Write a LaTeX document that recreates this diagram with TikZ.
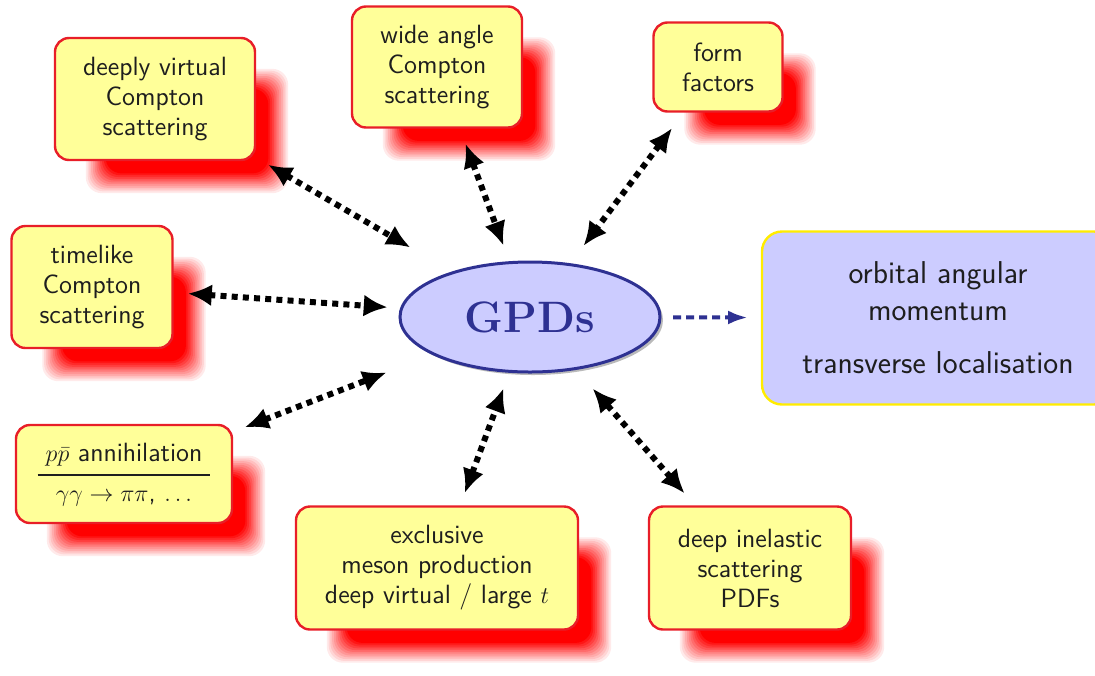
\documentclass[tikz,border=0pt]{standalone}
\usetikzlibrary{arrows.meta,shapes.geometric,backgrounds,shadows}
\definecolor{boxfill}{RGB}{255,255,153}
\definecolor{boxdraw}{RGB}{232,30,40}
\definecolor{gpdblue}{RGB}{46,49,146}
\definecolor{lav}{RGB}{204,204,255}
\definecolor{yel}{RGB}{255,236,0}
\definecolor{txt}{RGB}{30,30,30}
\tikzset{
  box/.style={draw=boxdraw, line width=1.2pt, fill=boxfill, rounded corners=7pt,
    align=center, font=\sffamily\fontsize{13.2}{15}\selectfont, text=txt, inner sep=0pt},
  link/.style={line width=3pt, dash pattern=on 3pt off 2.6pt,
    {Latex[length=12pt,width=11pt]}-{Latex[length=12pt,width=11pt]}},
}
\newcommand\redshadow[1]{%
  \foreach \i in {0,1,...,11}{%
    \pgfmathsetmacro\shop{1/(12-\i)}%
    \pgfmathsetmacro\shin{1.8*\i}%
    \fill[red, fill opacity=\shop, rounded corners=8pt]
      ([shift={({32+\shin},{32+\shin})}]#1.north west) rectangle
      ([shift={({32-\shin},{32-\shin})}]#1.south east);
  }%
}
\begin{document}
\begin{tikzpicture}[x=0.5pt,y=-0.5pt]
\useasboundingbox (0,0) rectangle (1095,675);
\clip (0,0) rectangle (1095,675);

\node[box, minimum width=100pt, minimum height=61pt] (dvcs) at (155,99) {deeply virtual\\Compton\\scattering};
\node[box, minimum width=85pt, minimum height=60.5pt] (wacs) at (437,67) {wide angle\\Compton\\scattering};
\node[box, minimum width=64.5pt, minimum height=44.5pt] (ff) at (718,67) {form\\factors};
\node[box, minimum width=80.5pt, minimum height=61pt] (tcs) at (92,287) {timelike\\Compton\\scattering};
\node[box, minimum width=108pt, minimum height=49pt] (pp) at (124,474)
  {{\renewcommand\arraystretch{1.25}\setlength\tabcolsep{4pt}\setlength\arrayrulewidth{0.6pt}%
   \begin{tabular}{c}$p\bar p$ annihilation\\[1pt]\hline $\gamma\gamma\to\pi\pi$, $\ldots$\end{tabular}}};
\node[box, minimum width=141pt, minimum height=61.5pt] (emp) at (437,568) {exclusive\\meson production\\deep virtual / large $t$};
\node[box, minimum width=101pt, minimum height=61.5pt] (dis) at (750,568) {deep inelastic\\scattering\\PDFs};

\begin{scope}[on background layer]
  \redshadow{dvcs}
  \redshadow{wacs}
  \redshadow{ff}
  \redshadow{tcs}
  \redshadow{pp}
  \redshadow{emp}
  \redshadow{dis}
\end{scope}

\node[ellipse, draw=gpdblue, line width=1.5pt, fill=lav, minimum width=130pt, minimum height=55pt,
  inner sep=0pt, drop shadow={shadow xshift=1.5pt, shadow yshift=-1.5pt, fill=black!45, opacity=0.6},
  text=gpdblue, font=\fontsize{22}{26}\selectfont\bfseries] (gpd) at (530,317) {GPDs};

\node[draw=yel, line width=1.2pt, fill=lav, rounded corners=10pt, minimum width=176pt, minimum height=86.5pt,
  inner sep=0pt, align=center, text=txt, font=\sffamily\fontsize{15.8}{18.5}\selectfont] (oam) at (938,318)
  {orbital angular\\momentum\\[8pt]transverse localisation};

\draw[gpdblue, line width=2pt, dash pattern=on 4pt off 2.5pt, -{Latex[length=10pt,width=7pt]},
  shorten <=5.8pt, shorten >=6.4pt] (gpd) -- (oam);

\draw[link, shorten <=65.4pt, shorten >=69.2pt] (dvcs.center) -- (gpd.center);
\draw[link, shorten <=40.9pt, shorten >=38.1pt] (wacs.center) -- (gpd.center);
\draw[link, shorten <=38.2pt, shorten >=44.5pt] (ff.center) -- (gpd.center);
\draw[link, shorten <=48pt, shorten >=71.3pt] (tcs.center) -- (gpd.center);
\draw[link, shorten <=64.7pt, shorten >=76.9pt] (pp.center) -- (gpd.center);
\draw[link, shorten <=40pt, shorten >=38pt] (emp.center) -- (gpd.center);
\draw[link, shorten <=49.6pt, shorten >=47.5pt] (dis.center) -- (gpd.center);
\end{tikzpicture}
\end{document}
